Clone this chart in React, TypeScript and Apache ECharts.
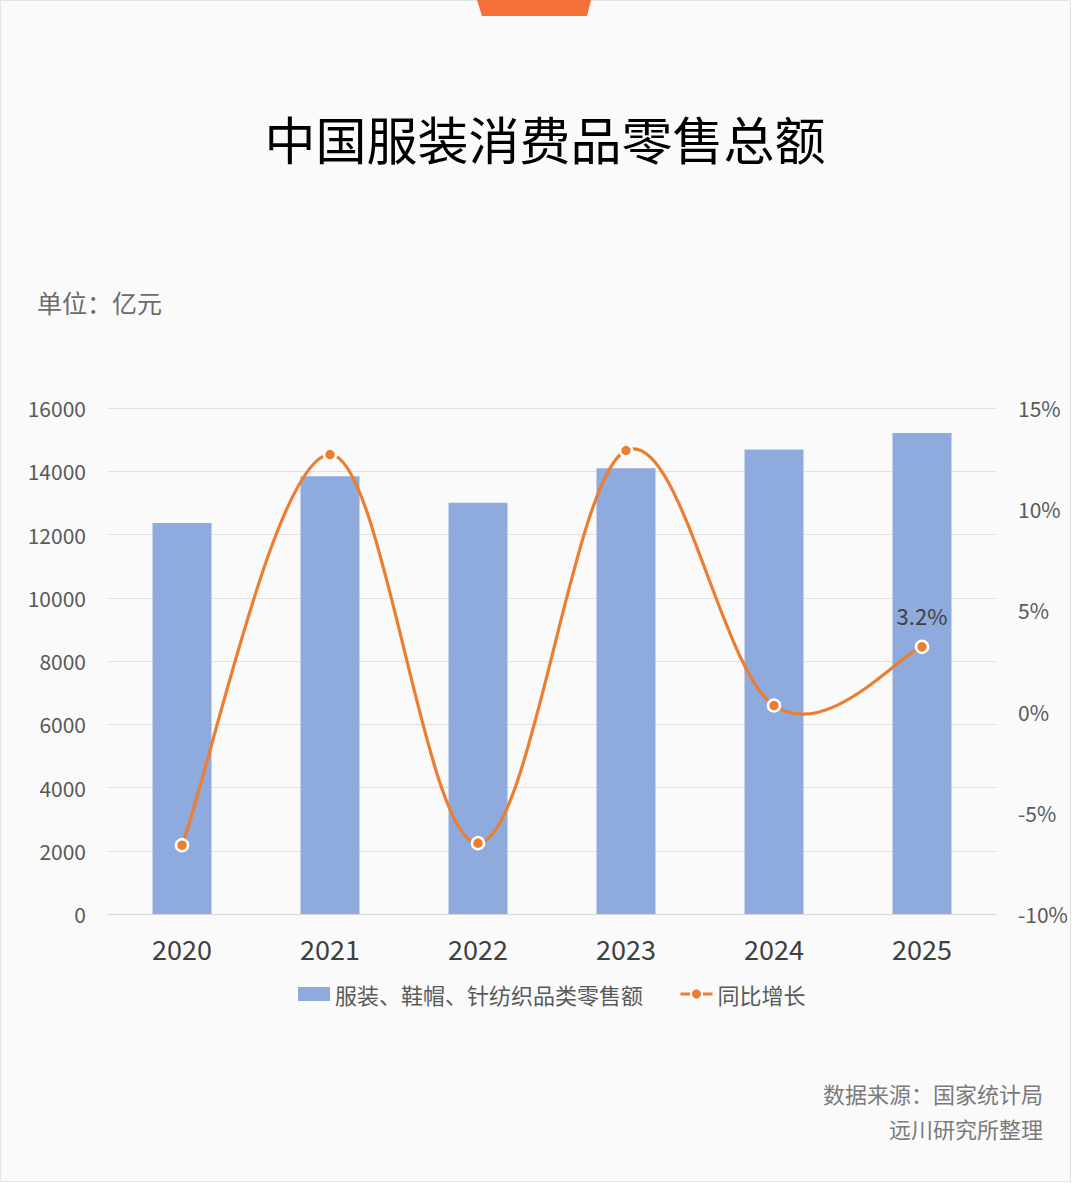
import React, { useEffect, useRef } from "react";
import * as echarts from "echarts";

const years = ["2020", "2021", "2022", "2023", "2024", "2025"];
const retailSales = [12365, 13842, 13003, 14095, 14691, 15210];
const yoyGrowth = [-6.6, 12.7, -6.5, 12.9, 0.3, 3.2];
const barName = "服装、鞋帽、针纺织品类零售额";
const lineName = "同比增长";
const titleText = "中国服装消费品零售总额";
const unitText = "单位：亿元";
const sourceLines = ["数据来源：国家统计局", "远川研究所整理"];

const FONT = "'Noto Sans CJK SC', 'Noto Sans', sans-serif";
const ORANGE = "#ed7d31";

export default function App() {
  const ref = useRef<HTMLDivElement>(null);
  useEffect(() => {
    document.body.style.margin = "0";
    const chart = echarts.init(ref.current!, null, { renderer: "svg" });
    const n = yoyGrowth.length;
    const tension = 0.18;
    const option: any = {
      animation: false,
      backgroundColor: "#ffffff",
      textStyle: { fontFamily: FONT },
      graphic: [
        {
          type: "rect",
          z: -10,
          shape: { x: 0.5, y: 0.5, width: 1070, height: 1181 },
          style: { fill: "#fafafa", stroke: "#e4e4e4", lineWidth: 1 },
        },
        {
          type: "polygon",
          shape: { points: [[477, 0], [591, 0], [587, 16], [482, 16]] },
          style: { fill: "#f4703a" },
        },
        {
          type: "text",
          x: 545,
          y: 138,
          style: {
            text: titleText,
            fontSize: 51,
            fontFamily: FONT,
            fontWeight: "normal",
            fill: "#000000",
            textAlign: "center",
            textVerticalAlign: "middle",
          },
        },
        {
          type: "text",
          x: 37,
          y: 302,
          style: {
            text: unitText,
            fontSize: 25,
            fontFamily: FONT,
            fill: "#6b6b6b",
            textAlign: "left",
            textVerticalAlign: "middle",
          },
        },
        ...sourceLines.map((t, i) => ({
          type: "text",
          x: 1043,
          y: 1093 + i * 35,
          style: {
            text: t,
            fontSize: 22,
            fontFamily: FONT,
            fill: "#7a7a7a",
            textAlign: "right",
            textVerticalAlign: "middle",
          },
        })),
      ],
      legend: {
        left: 293,
        top: 978,
        itemWidth: 32,
        itemHeight: 14,
        itemGap: 36,
        textStyle: { fontSize: 22, color: "#595959", fontFamily: FONT },
        data: [
          { name: barName, icon: "rect" },
          { name: lineName, lineStyle: { color: ORANGE, width: 3, opacity: 1 } },
        ],
      },
      grid: { left: 108, right: 84, top: 408, bottom: 269, containLabel: false },
      xAxis: {
        type: "category",
        data: years,
        axisLine: { show: true, lineStyle: { color: "#d9d9d9", width: 1 } },
        axisTick: { show: false },
        axisLabel: { fontSize: 27, color: "#404040", margin: 21, fontFamily: FONT },
      },
      yAxis: [
        {
          type: "value",
          min: 0,
          max: 16000,
          interval: 2000,
          axisLine: { show: false },
          axisTick: { show: false },
          splitLine: { lineStyle: { color: "#e0e0e0", width: 1 } },
          axisLabel: {
            fontSize: 21,
            color: "#595959",
            margin: 22,
            fontFamily: FONT,
            formatter: (v: number) => String(v),
          },
        },
        {
          type: "value",
          min: -10,
          max: 15,
          interval: 5,
          axisLine: { show: false },
          axisTick: { show: false },
          splitLine: { show: false },
          axisLabel: {
            fontSize: 21,
            color: "#595959",
            margin: 22,
            fontFamily: FONT,
            formatter: "{value}%",
          },
        },
      ],
      series: [
        {
          name: barName,
          type: "bar",
          data: retailSales,
          barWidth: 59,
          itemStyle: { color: "#8faadc" },
          z: 2,
        },
        {
          name: "curve",
          type: "custom",
          yAxisIndex: 1,
          z: 3,
          silent: true,
          data: yoyGrowth.map((v, i) => [i, v]),
          encode: { x: 0, y: 1 },
          renderItem: (params: any, api: any) => {
            const i = params.dataIndex;
            if (i >= n - 1) return { type: "group", children: [] };
            const c = (j: number) => Math.max(0, Math.min(n - 1, j));
            const P = (j: number) => api.coord([c(j), yoyGrowth[c(j)]]);
            const p0 = P(i - 1);
            const p1 = P(i);
            const p2 = P(i + 1);
            const p3 = P(i + 2);
            return {
              type: "bezierCurve",
              shape: {
                x1: p1[0],
                y1: p1[1],
                x2: p2[0],
                y2: p2[1],
                cpx1: p1[0] + (p2[0] - p0[0]) * tension,
                cpy1: p1[1] + (p2[1] - p0[1]) * tension,
                cpx2: p2[0] - (p3[0] - p1[0]) * tension,
                cpy2: p2[1] - (p3[1] - p1[1]) * tension,
              },
              style: { stroke: ORANGE, lineWidth: 3.2, fill: null, lineCap: "round" },
            };
          },
        },
        {
          name: lineName,
          type: "line",
          yAxisIndex: 1,
          z: 4,
          symbol: "circle",
          symbolSize: 12,
          lineStyle: { color: ORANGE, width: 0, opacity: 0 },
          itemStyle: { color: ORANGE, borderColor: "#ffffff", borderWidth: 2.5 },
          data: yoyGrowth.map((v, i) =>
            i === n - 1
              ? {
                  value: v,
                  label: {
                    show: true,
                    position: "top",
                    distance: 14,
                    formatter: "{c}%",
                    fontSize: 22,
                    color: "#404040",
                    fontFamily: FONT,
                  },
                }
              : v
          ),
        },
      ],
    };
    chart.setOption(option);
    return () => chart.dispose();
  }, []);
  return <div ref={ref} style={{ width: 1080, height: 1183 }} />;
}
